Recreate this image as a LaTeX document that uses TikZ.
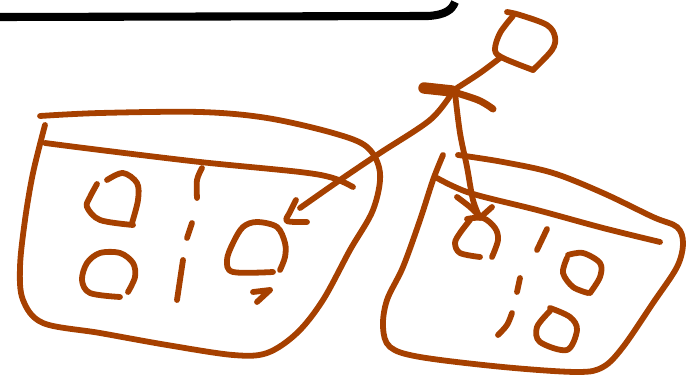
\documentclass[tikz,border=0pt]{standalone}
\begin{document}
\begin{tikzpicture}[x=0.02cm,y=-0.02cm,
  sk/.style={draw=rust,line width=3.3pt,line cap=round,line join=round}]
\definecolor{rust}{HTML}{A64000}
\useasboundingbox (0,0) rectangle (697,375);
% black top bar
\draw[line width=4.6pt,line cap=butt] (0,17) -- (428,16) .. controls (445,15) and (452,10) .. (455,2);
% small box top right
\draw[sk] plot[smooth,tension=0.55] coordinates {(507,12)(520,15)(547,25)(555,37)(552,50)(533,70)};
\draw[sk] plot[smooth,tension=0.55] coordinates {(533,70)(503,58)(495,50)(500,33)(513,16)};
% line from small box to hub
\draw[sk] plot[smooth,tension=0.55] coordinates {(500,58)(480,73)(457,88)};
% hub blob
\draw[draw=rust,line width=6.5pt,line cap=round] (424,88) -- (452,91);
\draw[draw=rust,line width=4pt,line cap=round] plot[smooth,tension=0.6] coordinates {(450,91)(478,100)(493,109)};
% arrow to left box
\draw[sk] plot[smooth,tension=0.55] coordinates {(452,93)(430,120)(380,153)(340,180)(300,208)};
\draw[sk] plot[smooth,tension=0.55] coordinates {(296,200)(290,212)(287,221)(307,222)};
% arrow down to right box
\draw[sk] plot[smooth,tension=0.55] coordinates {(455,93)(460,133)(467,167)(473,200)(480,218)};
\draw[sk] plot[smooth,tension=0.55] coordinates {(457,197)(470,207)(480,217)};
\draw[sk] (492,207) -- (482,216);
% left box
\draw[sk] plot[smooth,tension=0.55] coordinates {(40,116)(100,113)(200,112)(267,118)(333,133)(367,147)(380,173)(373,210)(350,250)(323,300)(297,333)(267,353)(233,355)(167,345)(100,333)(43,323)(23,300)(20,267)(25,220)(33,173)(45,125)};
\draw[sk] plot[smooth,tension=0.55] coordinates {(45,143)(100,150)(200,162)(300,172)(333,178)(353,187)};
% left box contents
\draw[sk] plot[smooth,tension=0.55] coordinates {(107,180)(123,173)(137,183)(138,200)(132,223)};
\draw[sk] plot[smooth,tension=0.55] coordinates {(133,225)(100,220)(87,207)(90,197)(97,184)};
\draw[sk] plot[smooth,tension=0.55] coordinates {(120,297)(90,293)(82,280)(87,263)(100,253)(120,253)(133,263)(135,277)(128,292)};
\draw[sk] plot[smooth,tension=0.55] coordinates {(202,168)(197,180)(197,198)};
\draw[sk] (192,223) -- (187,238);
\draw[sk] (183,260) -- (177,300);
\draw[sk] plot[smooth,tension=0.55] coordinates {(273,272)(233,272)(227,260)(233,243)(243,227)(257,222)(277,227)(285,243)(285,257)(280,270)};
\draw[sk] (253,292) -- (270,290) -- (257,302);
% right box
\draw[sk] plot[smooth,tension=0.55] coordinates {(458,155)(503,162)(553,173)(603,193)(653,217)(677,227)(683,243)(677,267)(653,303)(623,347)(603,367)(577,372)(503,367)(420,357)(390,347)(383,327)(387,300)(403,267)(420,220)(433,180)(443,155)};
\draw[sk] plot[smooth,tension=0.55] coordinates {(437,178)(470,193)(537,210)(603,228)(660,242)};
% right box contents
\draw[sk] plot[smooth,tension=0.55] coordinates {(467,219)(483,218)(495,228)(498,240)(492,257)};
\draw[sk] plot[smooth,tension=0.55] coordinates {(480,257)(460,253)(455,243)(460,233)(470,220)};
\draw[sk] (547,229) -- (537,250);
\draw[sk] (520,278) -- (517,292);
\draw[sk] plot[smooth,tension=0.55] coordinates {(512,313)(507,325)(498,335)};
\draw[sk] plot[smooth,tension=0.55] coordinates {(568,255)(583,253)(600,263)(600,277)(590,293)};
\draw[sk] plot[smooth,tension=0.55] coordinates {(588,293)(573,287)(563,273)(567,258)};
\draw[sk] plot[smooth,tension=0.55] coordinates {(550,308)(570,317)(577,330)(567,350)(540,342)(537,327)(550,311)};
\end{tikzpicture}
\end{document}
